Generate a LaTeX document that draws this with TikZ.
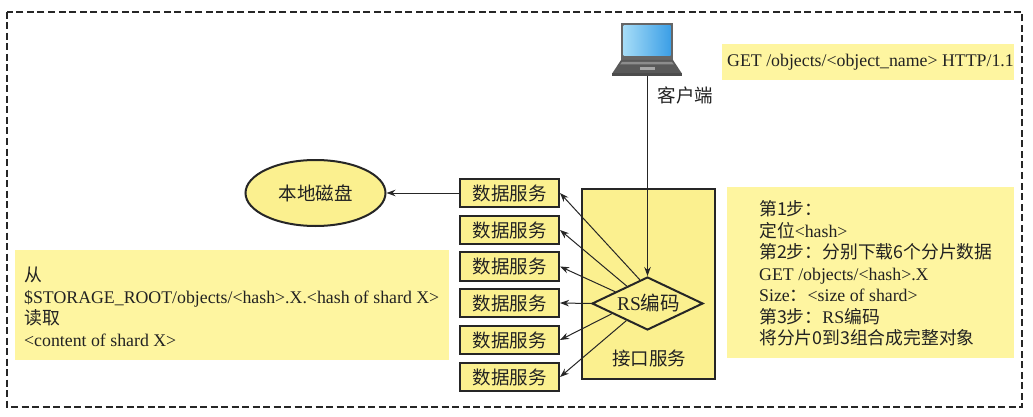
\documentclass[tikz,border=0pt]{standalone}
\usepackage{fontspec}
\setmainfont{Liberation Serif}
\newfontfamily\cjk{Noto Sans CJK SC}
\usetikzlibrary{shapes.geometric,arrows.meta}
\definecolor{bandyellow}{HTML}{FEF5A0}
\definecolor{boxyellow}{HTML}{FBF08F}
\definecolor{inkgray}{HTML}{222222}
\definecolor{screenlight}{HTML}{A5DCF7}
\definecolor{screendeep}{HTML}{3C9FE6}
\tikzset{
  notetext/.style={inner sep=0pt,align=left,text=inkgray,font=\fontsize{17.8}{21.5}\selectfont},
  service/.style={draw=black!85,line width=2pt,fill=boxyellow,minimum width=99pt,minimum height=28.5pt,inner sep=0pt,text=inkgray,font=\fontsize{18.5}{20}\selectfont\cjk},
  link/.style={draw=black!85,line width=1pt,-{Stealth[length=9pt,width=6.5pt]}}
}
\begin{document}
\begin{tikzpicture}[x=1pt,y=-1pt]
\useasboundingbox (0,0) rectangle (1033,417);
\fill[white] (0,0) rectangle (1033,417);
% outer dashed frame
\draw[black!85,line width=1.3pt,dash pattern=on 7pt off 3.5pt] (7,12) rectangle (1022,407);
% yellow note bands
\fill[bandyellow] (722,44) rectangle (1014,80);
\fill[bandyellow] (727,187) rectangle (1014,358);
\fill[bandyellow] (15,250) rectangle (449,360);
% laptop
\node[minimum width=70pt,minimum height=53pt,inner sep=0pt] (client) at (647.5,49.5) {};
\fill[black!60] (621,23) rectangle (673,60);
\shade[left color=screenlight,right color=screendeep] (623.5,26) rectangle (670.5,56);
\fill[black!65] (621,60) -- (673,60) -- (681.5,73) -- (612.5,73) -- cycle;
\fill[black!45] (622,62) -- (672,62) -- (674,64.5) -- (620,64.5) -- cycle;
\fill[black!35] (640,67) rectangle (655,70);
\fill[black!70] (612,73) rectangle (682,76);
% interface service box and its diamond
\node[draw=black!85,line width=2pt,fill=boxyellow,minimum width=133pt,minimum height=190pt,inner sep=0pt] (iface) at (648,283.5) {};
\node[font=\fontsize{18.5}{20}\selectfont\cjk,text=inkgray] (ifacelabel) at (649,358.5) {接口服务};
\node[diamond,draw=black!85,line width=2pt,fill=boxyellow,minimum width=111pt,minimum height=53pt,inner sep=0pt,aspect=2.1] (rs) at (647.5,303.5) {};
\node[text=inkgray,inner sep=0pt,font=\fontsize{19.5}{20}\selectfont] (rslabel) at (648.5,303) {RS{\cjk 编码}};
% data services
\node[service] (d1) at (509.5,193) {数据服务};
\node[service] (d2) at (509.5,230) {数据服务};
\node[service] (d3) at (509.5,266.5) {数据服务};
\node[service] (d4) at (509.5,303) {数据服务};
\node[service] (d5) at (509.5,340) {数据服务};
\node[service] (d6) at (509.5,377) {数据服务};
% local disk
\node[ellipse,draw=black!85,line width=2pt,fill=boxyellow,minimum width=140pt,minimum height=66pt,inner sep=0pt,text=inkgray,font=\fontsize{18.5}{20}\selectfont\cjk] (disk) at (315.5,193) {本地磁盘};
% connectors
\draw[link] (client.south) -- (rs.north);
\draw[link] (d1.west) -- (disk.east);
\draw[link] (rs.108) -- (d1.east);
\draw[link] (rs.140) -- (d2.east);
\draw[link] (rs.160) -- (d3.east);
\draw[link] (rs.west) -- (d4.east);
\draw[link] (rs.196) -- (d5.east);
\draw[link] (rs.219) -- (d6.east);
% labels and notes
\node[font=\fontsize{18.5}{20}\selectfont\cjk,text=inkgray,inner sep=0pt] (clientlabel) at (685.5,95.5) {客户端};
\node[notetext,anchor=west] (reqnote) at (727,62) {GET /objects/<object\_name> HTTP/1.1};
\node[notetext,anchor=north west] (stepsnote) at (759,200.5) {%
  {\cjk 第1步：}\\
  {\cjk 定位}<hash>\\
  {\cjk 第2步：分别下载6个分片数据}\\
  GET /objects/<hash>.X\\
  Size{\cjk ：}<size of shard>\\
  {\cjk 第3步：}RS{\cjk 编码}\\
  {\cjk 将分片0到3组合成完整对象}};
\node[notetext,anchor=north west] (readnote) at (24,267) {%
  {\cjk 从}\\
  \$STORAGE\_ROOT/objects/<hash>.X.<hash of shard X>\\
  {\cjk 读取}\\
  <content of shard X>};
\end{tikzpicture}
\end{document}
